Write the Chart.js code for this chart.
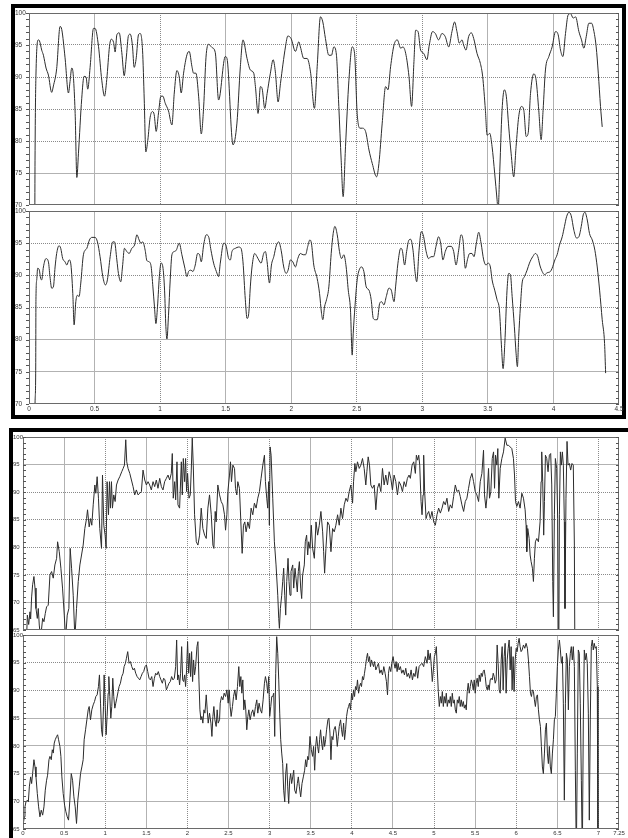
<!DOCTYPE html>
<html>
<head>
<meta charset="utf-8">
<script src="https://cdn.jsdelivr.net/npm/chart.js@4.4.0/dist/chart.umd.min.js"></script>
<style>
  html, body { margin: 0; padding: 0; background: #fff; }
  body { width: 628px; height: 838px; position: relative; overflow: hidden; }
  .frame { position: absolute; border: 4px solid #000; box-sizing: border-box; }
  canvas { position: absolute; }
</style>
</head>
<body>
<div class="frame" style="left:11px;top:4px;width:615px;height:415px"></div>
<div class="frame" style="left:9px;top:428px;width:700px;height:500px"></div>
<canvas id="topA" width="610" height="206" style="left:15px;top:5px"></canvas>
<canvas id="topB" width="610" height="213" style="left:15px;top:203px"></canvas>
<canvas id="lowA" width="615" height="206" style="left:13px;top:430px"></canvas>
<canvas id="lowB" width="615" height="210" style="left:13px;top:628px"></canvas>
<script>
"use strict"

// tick labels
const topXTicks = [0, 0.5, 1, 1.5, 2, 2.5, 3, 3.5, 4, 4.5];
const lowXTicks = [0, 0.5, 1, 1.5, 2, 2.5, 3, 3.5, 4, 4.5, 5, 5.5, 6, 6.5, 7, 7.25];
const topYRange = [70, 100];
const lowYRange = [65, 100];

// upper panel, first trace
const topAx = [
  0.044, 0.046, 0.053, 0.071, 0.079, 0.097, 0.110, 0.130, 0.148, 0.173,
  0.186, 0.211, 0.237, 0.250, 0.275, 0.301, 0.313, 0.326, 0.334, 0.352,
  0.365, 0.377, 0.402, 0.420, 0.435, 0.448, 0.466, 0.492, 0.504, 0.530,
  0.555, 0.576, 0.593, 0.614, 0.627, 0.645, 0.657, 0.670, 0.688, 0.708,
  0.726, 0.741, 0.759, 0.772, 0.789, 0.802, 0.818, 0.835, 0.848, 0.866,
  0.879, 0.891, 0.906, 0.924, 0.942, 0.955, 0.970, 0.988, 1.006, 1.021,
  1.039, 1.064, 1.090, 1.108, 1.128, 1.146, 1.161, 1.179, 1.205, 1.222,
  1.243, 1.255, 1.273, 1.294, 1.314, 1.332, 1.350, 1.370, 1.396, 1.421,
  1.446, 1.497, 1.510, 1.556, 1.586, 1.612, 1.632, 1.663, 1.688, 1.714,
  1.727, 1.747, 1.765, 1.778, 1.798, 1.816, 1.841, 1.862, 1.879, 1.900,
  1.918, 1.956, 1.974, 1.999, 2.032, 2.058, 2.070, 2.096, 2.121, 2.147,
  2.177, 2.198, 2.223, 2.241, 2.261, 2.287, 2.307, 2.325, 2.345, 2.363,
  2.381, 2.396, 2.414, 2.440, 2.465, 2.483, 2.503, 2.524, 2.542, 2.567,
  2.593, 2.618, 2.651, 2.669, 2.694, 2.720, 2.738, 2.758, 2.784, 2.809,
  2.835, 2.852, 2.873, 2.898, 2.918, 2.936, 2.949, 2.967, 2.987, 3.010,
  3.035, 3.053, 3.078, 3.099, 3.124, 3.150, 3.175, 3.201, 3.226, 3.246,
  3.264, 3.282, 3.303, 3.315, 3.333, 3.353, 3.374, 3.392, 3.417, 3.443,
  3.460, 3.481, 3.494, 3.514, 3.532, 3.552, 3.570, 3.578, 3.588, 3.608,
  3.626, 3.641, 3.659, 3.677, 3.697, 3.715, 3.735, 3.756, 3.774, 3.792,
  3.807, 3.825, 3.850, 3.868, 3.888, 3.906, 3.921, 3.939, 3.965, 3.990,
  4.016, 4.036, 4.054, 4.072, 4.092, 4.112, 4.130, 4.151, 4.169, 4.194,
  4.214, 4.232, 4.250, 4.270, 4.291, 4.309, 4.326, 4.342, 4.359, 4.372
];
const topAy = [
  66, 77.0, 90.3, 95.8, 95.7, 94.2, 93.4, 91.4, 90.3, 87.6,
  88.6, 91.3, 97.9, 97.4, 93.0, 87.5, 89.3, 91.4, 91.0, 84.3,
  74.3, 78.0, 86.6, 90.1, 90.0, 88.1, 91.5, 97.6, 97.6, 94.8,
  89.5, 87.0, 89.6, 94.8, 95.9, 95.4, 93.9, 96.6, 96.9, 93.8,
  90.2, 92.8, 96.5, 96.7, 94.9, 91.5, 93.0, 96.6, 96.8, 94.2,
  86.4, 78.3, 80.1, 83.7, 84.6, 84.1, 81.5, 84.4, 87.0, 87.0,
  85.9, 84.7, 82.5, 87.5, 91.0, 90.0, 87.5, 90.6, 93.5, 94.0,
  91.6, 90.6, 90.6, 86.9, 81.1, 85.3, 93.1, 95.1, 94.6, 93.8,
  86.4, 93.2, 92.9, 79.4, 82.8, 91.6, 95.8, 92.9, 91.1, 90.6,
  88.5, 84.3, 88.5, 88.2, 85.1, 87.4, 90.6, 92.7, 90.8, 86.1,
  89.0, 94.7, 96.4, 96.0, 94.0, 95.5, 94.7, 92.9, 92.9, 90.8,
  85.1, 91.6, 99.4, 98.6, 96.0, 93.4, 93.4, 94.7, 93.4, 85.4,
  77.0, 71.3, 79.1, 89.5, 94.7, 93.7, 84.3, 82.0, 82.0, 81.5,
  78.6, 76.5, 74.4, 76.5, 82.8, 88.5, 88.0, 91.6, 95.0, 95.8,
  94.5, 94.7, 93.7, 90.1, 85.4, 92.4, 97.3, 97.1, 94.2, 93.7,
  92.7, 95.0, 97.1, 96.8, 95.8, 96.8, 96.3, 94.7, 97.1, 98.6,
  97.1, 95.3, 95.8, 95.0, 94.2, 96.3, 96.9, 96.0, 93.7, 92.1,
  90.1, 84.8, 80.9, 81.2, 79.1, 74.9, 70.8, 69.0, 73.9, 84.8,
  88.0, 86.9, 82.2, 78.1, 74.4, 79.1, 83.8, 85.4, 84.8, 80.7,
  81.2, 87.4, 90.5, 89.5, 84.8, 80.2, 84.8, 91.1, 93.2, 94.7,
  97.1, 96.6, 94.2, 93.2, 96.8, 99.7, 99.9, 99.2, 99.4, 97.1,
  95.8, 94.5, 96.3, 98.4, 98.4, 97.1, 94.7, 90.6, 85.4, 82.2
];

// upper panel, second trace
const topBx = [
  0.044, 0.046, 0.051, 0.053, 0.059, 0.066, 0.079, 0.089, 0.097, 0.110,
  0.130, 0.148, 0.160, 0.173, 0.186, 0.199, 0.211, 0.229, 0.242, 0.257,
  0.275, 0.288, 0.306, 0.318, 0.334, 0.344, 0.357, 0.369, 0.382, 0.395,
  0.415, 0.441, 0.461, 0.479, 0.504, 0.522, 0.542, 0.563, 0.583, 0.598,
  0.619, 0.639, 0.652, 0.670, 0.682, 0.700, 0.713, 0.728, 0.746, 0.764,
  0.784, 0.805, 0.823, 0.840, 0.853, 0.868, 0.886, 0.899, 0.917, 0.932,
  0.945, 0.957, 0.968, 0.980, 0.996, 1.008, 1.021, 1.034, 1.044, 1.052,
  1.064, 1.077, 1.090, 1.108, 1.123, 1.146, 1.166, 1.187, 1.205, 1.217,
  1.235, 1.250, 1.268, 1.286, 1.301, 1.314, 1.332, 1.352, 1.370, 1.388,
  1.408, 1.429, 1.446, 1.459, 1.485, 1.502, 1.523, 1.536, 1.548, 1.574,
  1.599, 1.617, 1.632, 1.650, 1.663, 1.676, 1.688, 1.701, 1.721, 1.739,
  1.752, 1.770, 1.790, 1.803, 1.816, 1.834, 1.849, 1.867, 1.887, 1.905,
  1.923, 1.943, 1.961, 1.976, 1.994, 2.012, 2.032, 2.050, 2.070, 2.091,
  2.109, 2.126, 2.142, 2.154, 2.172, 2.198, 2.216, 2.231, 2.241, 2.254,
  2.269, 2.287, 2.305, 2.320, 2.333, 2.351, 2.368, 2.384, 2.401, 2.419,
  2.435, 2.452, 2.465, 2.473, 2.486, 2.503, 2.524, 2.537, 2.554, 2.572,
  2.593, 2.610, 2.626, 2.643, 2.656, 2.674, 2.689, 2.707, 2.725, 2.745,
  2.763, 2.784, 2.796, 2.814, 2.835, 2.847, 2.865, 2.880, 2.898, 2.911,
  2.929, 2.944, 2.957, 2.975, 2.992, 3.010, 3.027, 3.048, 3.066, 3.086,
  3.104, 3.124, 3.140, 3.157, 3.175, 3.196, 3.221, 3.239, 3.257, 3.277,
  3.295, 3.310, 3.328, 3.346, 3.361, 3.379, 3.394, 3.412, 3.430, 3.448,
  3.468, 3.486, 3.501, 3.519, 3.532, 3.552, 3.570, 3.588, 3.603, 3.616,
  3.629, 3.646, 3.659, 3.672, 3.685, 3.702, 3.715, 3.725, 3.735, 3.748,
  3.761, 3.779, 3.799, 3.817, 3.842, 3.863, 3.881, 3.896, 3.914, 3.932,
  3.952, 3.977, 3.990, 4.011, 4.028, 4.046, 4.067, 4.084, 4.100, 4.118,
  4.135, 4.156, 4.176, 4.194, 4.212, 4.227, 4.240, 4.258, 4.275, 4.296,
  4.316, 4.334, 4.352, 4.372, 4.390, 4.398
];
const topBy = [
  66, 70.0, 74.8, 86.2, 89.3, 91.1, 90.8, 89.5, 89.3, 91.3,
  92.6, 92.1, 89.8, 88.0, 88.2, 91.3, 93.4, 94.6, 94.2, 92.6,
  92.1, 91.6, 92.4, 91.9, 87.2, 82.3, 85.9, 86.9, 86.7, 88.8,
  93.2, 94.2, 95.5, 95.9, 95.9, 95.2, 92.9, 89.8, 88.5, 89.3,
  92.9, 95.2, 95.2, 92.4, 90.3, 89.0, 91.3, 94.2, 93.7, 93.4,
  94.2, 94.7, 96.3, 95.5, 95.0, 95.2, 93.9, 92.3, 92.1, 91.3,
  88.2, 85.1, 82.5, 85.1, 90.3, 91.9, 91.3, 87.7, 82.0, 80.1,
  83.8, 89.3, 93.2, 93.7, 93.9, 95.0, 93.2, 91.3, 89.8, 90.6,
  90.8, 90.6, 91.6, 93.4, 93.2, 92.1, 94.7, 96.3, 96.0, 93.9,
  91.9, 90.6, 89.8, 91.9, 95.0, 94.7, 92.6, 92.4, 93.7, 94.2,
  94.4, 94.2, 92.1, 86.2, 83.3, 84.1, 88.2, 91.3, 93.4, 92.9,
  92.4, 91.9, 93.4, 93.7, 92.1, 88.8, 91.6, 92.9, 94.7, 95.2,
  93.9, 91.3, 90.3, 90.8, 92.4, 92.1, 91.3, 92.6, 93.4, 93.2,
  93.2, 94.5, 95.5, 95.0, 91.6, 89.5, 87.2, 84.1, 83.1, 85.1,
  86.2, 88.2, 93.4, 96.5, 97.6, 96.3, 93.7, 92.6, 93.2, 91.3,
  87.7, 84.6, 77.6, 81.0, 85.1, 89.3, 91.1, 91.3, 90.6, 88.2,
  87.7, 86.2, 83.3, 83.1, 83.1, 85.6, 85.9, 85.4, 86.7, 88.0,
  87.7, 85.9, 88.2, 91.9, 94.2, 93.9, 91.6, 93.7, 95.5, 95.6,
  93.9, 90.6, 89.0, 93.9, 96.8, 96.0, 93.9, 92.6, 92.9, 92.9,
  94.5, 96.0, 95.0, 92.4, 93.7, 94.5, 94.5, 93.7, 91.6, 93.9,
  96.3, 95.5, 91.1, 92.6, 93.4, 93.4, 92.9, 95.0, 96.7, 95.0,
  92.4, 91.6, 91.9, 91.3, 89.3, 87.7, 86.2, 84.6, 79.2, 75.5,
  79.4, 87.7, 90.3, 90.1, 86.7, 82.0, 77.9, 75.8, 80.5, 85.1,
  88.8, 89.8, 90.8, 91.9, 92.9, 93.4, 92.9, 91.6, 90.6, 90.1,
  90.4, 90.6, 91.1, 92.4, 93.2, 94.7, 96.0, 97.6, 99.1, 99.8,
  99.3, 97.0, 95.8, 96.0, 97.6, 99.4, 99.8, 98.6, 96.5, 95.5,
  93.9, 91.3, 87.7, 83.1, 79.4, 74.8
];

// lower panel, first trace
const lowAx = [
  0.040, 0.053, 0.069, 0.085, 0.093, 0.105, 0.117, 0.133, 0.146, 0.158,
  0.174, 0.186, 0.198, 0.214, 0.239, 0.255, 0.271, 0.287, 0.307, 0.328,
  0.348, 0.368, 0.388, 0.409, 0.421, 0.441, 0.461, 0.481, 0.502, 0.518,
  0.538, 0.558, 0.574, 0.591, 0.611, 0.631, 0.651, 0.672, 0.692, 0.712,
  0.732, 0.752, 0.773, 0.785, 0.805, 0.821, 0.837, 0.854, 0.874, 0.886,
  0.902, 0.918, 0.934, 0.955, 0.967, 0.983, 0.999, 1.011, 1.023, 1.040,
  1.052, 1.064, 1.076, 1.088, 1.104, 1.121, 1.137, 1.157, 1.177, 1.201,
  1.218, 1.234, 1.250, 1.262, 1.278, 1.299, 1.319, 1.339, 1.359, 1.379,
  1.400, 1.420, 1.440, 1.460, 1.481, 1.501, 1.521, 1.541, 1.561, 1.582,
  1.602, 1.622, 1.642, 1.663, 1.683, 1.703, 1.723, 1.744, 1.764, 1.784,
  1.804, 1.816, 1.828, 1.845, 1.857, 1.873, 1.885, 1.905, 1.926, 1.938,
  1.950, 1.966, 1.978, 1.990, 2.002, 2.019, 2.035, 2.047, 2.059, 2.071,
  2.087, 2.108, 2.128, 2.148, 2.168, 2.188, 2.209, 2.229, 2.249, 2.269,
  2.290, 2.310, 2.322, 2.338, 2.350, 2.370, 2.391, 2.411, 2.431, 2.451,
  2.464, 2.480, 2.492, 2.512, 2.524, 2.536, 2.553, 2.573, 2.585, 2.601,
  2.613, 2.633, 2.650, 2.666, 2.682, 2.698, 2.714, 2.735, 2.755, 2.775,
  2.795, 2.815, 2.836, 2.856, 2.876, 2.896, 2.917, 2.937, 2.949, 2.965,
  2.977, 2.989, 2.997, 3.006, 3.018, 3.038, 3.058, 3.078, 3.099, 3.111,
  3.119, 3.131, 3.147, 3.159, 3.171, 3.184, 3.196, 3.208, 3.224, 3.236,
  3.248, 3.260, 3.281, 3.293, 3.309, 3.321, 3.337, 3.349, 3.362, 3.378,
  3.390, 3.402, 3.422, 3.434, 3.450, 3.463, 3.475, 3.491, 3.507, 3.523,
  3.544, 3.564, 3.584, 3.604, 3.624, 3.645, 3.657, 3.669, 3.685, 3.705,
  3.726, 3.746, 3.766, 3.786, 3.806, 3.827, 3.847, 3.867, 3.887, 3.908,
  3.928, 3.948, 3.968, 3.988, 4.009, 4.021, 4.037, 4.049, 4.069, 4.090,
  4.110, 4.130, 4.150, 4.170, 4.183, 4.199, 4.215, 4.231, 4.251, 4.272,
  4.292, 4.312, 4.332, 4.353, 4.373, 4.393, 4.413, 4.434, 4.454, 4.474,
  4.494, 4.514, 4.535, 4.555, 4.575, 4.595, 4.616, 4.636, 4.656, 4.676,
  4.696, 4.712, 4.733, 4.753, 4.773, 4.785, 4.801, 4.814, 4.826, 4.842,
  4.854, 4.866, 4.874, 4.886, 4.903, 4.915, 4.935, 4.955, 4.975, 4.996,
  5.016, 5.036, 5.056, 5.077, 5.097, 5.117, 5.137, 5.157, 5.178, 5.198,
  5.218, 5.238, 5.259, 5.279, 5.299, 5.319, 5.339, 5.360, 5.380, 5.400,
  5.420, 5.441, 5.461, 5.481, 5.501, 5.521, 5.542, 5.562, 5.582, 5.602,
  5.614, 5.631, 5.643, 5.663, 5.675, 5.691, 5.708, 5.724, 5.736, 5.748,
  5.764, 5.776, 5.788, 5.805, 5.825, 5.845, 5.865, 5.886, 5.906, 5.926,
  5.946, 5.966, 5.979, 5.991, 6.007, 6.027, 6.047, 6.068, 6.088, 6.108,
  6.120, 6.128, 6.140, 6.157, 6.169, 6.181, 6.197, 6.209, 6.221, 6.233,
  6.250, 6.270, 6.290, 6.302, 6.310, 6.322, 6.334, 6.343, 6.355, 6.371,
  6.387, 6.403, 6.419, 6.432, 6.444, 6.452, 6.464, 6.476, 6.492, 6.504,
  6.516, 6.525, 6.537, 6.549, 6.561, 6.573, 6.585, 6.593, 6.605, 6.618,
  6.630, 6.646, 6.662, 6.678, 6.694, 6.707, 6.715
];
const lowAy = [
  62, 67.7, 66.0, 68.3, 67.0, 71.0, 73.2, 74.7, 72.6, 68.9,
  67.1, 68.9, 65.9, 63.5, 67.1, 66.5, 68.0, 69.2, 69.5, 75.0,
  75.6, 74.4, 76.8, 78.0, 81.0, 79.2, 76.2, 72.6, 67.7, 63.5,
  67.7, 68.9, 79.8, 76.2, 71.3, 63.5, 68.9, 73.8, 76.8, 78.6,
  80.4, 83.4, 85.2, 86.8, 83.7, 85.2, 84.0, 87.7, 91.3, 89.8,
  92.8, 88.9, 83.4, 79.8, 93.1, 84.0, 82.2, 79.8, 91.9, 85.9,
  91.9, 87.1, 91.9, 87.1, 89.5, 88.3, 91.3, 92.2, 92.8, 93.7,
  94.3, 94.9, 99.5, 95.5, 94.3, 93.4, 92.2, 91.0, 89.5, 90.4,
  89.5, 89.8, 90.1, 94.0, 92.2, 91.3, 91.9, 91.3, 90.4, 91.9,
  91.0, 92.2, 90.7, 92.5, 91.0, 90.4, 91.9, 92.5, 93.1, 92.2,
  93.4, 97.0, 88.9, 91.9, 88.6, 95.5, 87.7, 87.1, 95.5, 89.5,
  96.1, 91.9, 96.1, 90.1, 93.4, 88.9, 89.5, 94.0, 99.8, 94.9,
  85.9, 81.0, 80.4, 82.2, 87.1, 83.4, 82.2, 81.6, 87.1, 89.5,
  85.9, 80.4, 79.8, 86.5, 84.6, 91.3, 89.5, 88.3, 87.7, 85.9,
  83.1, 85.9, 90.1, 93.1, 95.5, 91.9, 94.9, 94.3, 90.7, 89.5,
  91.9, 90.7, 84.6, 78.9, 84.0, 84.6, 82.8, 84.6, 83.4, 87.1,
  85.9, 88.0, 87.1, 88.9, 90.1, 92.5, 94.9, 96.7, 91.9, 88.9,
  87.1, 91.9, 84.0, 98.2, 96.7, 88.9, 81.0, 76.8, 71.3, 67.1,
  65.3, 68.9, 71.3, 73.8, 76.2, 71.3, 67.7, 73.8, 78.0, 73.8,
  71.3, 75.6, 76.8, 72.6, 76.2, 74.4, 71.9, 75.6, 77.4, 72.6,
  70.7, 75.0, 76.8, 81.0, 82.2, 78.6, 81.0, 79.8, 84.0, 79.8,
  78.0, 84.6, 82.2, 84.0, 86.5, 82.8, 79.2, 75.3, 79.8, 84.6,
  84.0, 79.2, 83.4, 82.8, 84.0, 85.9, 84.0, 87.1, 85.2, 87.7,
  88.9, 88.3, 90.1, 91.3, 88.0, 91.9, 95.2, 93.7, 95.5, 94.3,
  94.9, 96.1, 94.3, 91.3, 93.7, 96.4, 94.9, 91.3, 90.7, 91.3,
  86.8, 90.7, 91.6, 90.1, 94.3, 91.3, 93.1, 91.3, 93.7, 92.5,
  90.4, 93.1, 91.9, 89.5, 91.9, 91.3, 90.1, 91.9, 91.0, 92.5,
  93.1, 92.5, 94.9, 95.5, 93.4, 96.7, 95.8, 96.7, 94.9, 88.3,
  85.9, 89.5, 96.7, 90.1, 85.2, 85.9, 86.5, 85.2, 86.5, 84.6,
  84.0, 85.9, 87.1, 86.2, 87.1, 88.3, 87.7, 88.9, 86.5, 87.7,
  87.1, 89.2, 91.3, 90.1, 90.4, 89.2, 87.7, 86.5, 88.3, 88.9,
  90.7, 92.5, 93.4, 91.9, 90.1, 89.5, 88.3, 91.9, 93.4, 97.6,
  89.5, 87.1, 88.9, 94.3, 88.9, 90.1, 96.1, 97.3, 90.7, 96.7,
  94.9, 97.9, 88.9, 94.3, 96.1, 97.3, 99.8, 98.5, 98.5, 98.2,
  97.9, 96.1, 93.1, 88.3, 87.4, 88.3, 87.1, 89.8, 88.9, 86.8,
  84.0, 79.2, 83.4, 81.6, 78.6, 77.4, 76.2, 73.8, 78.0, 81.0,
  81.6, 81.0, 84.6, 91.9, 97.3, 91.9, 82.2, 88.3, 96.7, 96.1,
  93.7, 96.7, 97.0, 91.3, 73.8, 67.4, 85.9, 96.1, 94.3, 85.2,
  55, 85.9, 97.3, 94.9, 97.3, 94.9, 84.6, 68.9, 88.9, 99.2,
  94.9, 95.2, 94.0, 95.2, 94.9, 80.4, 55
];

// lower panel, second trace
const lowBx = [
  0.004, 0.016, 0.024, 0.036, 0.053, 0.065, 0.077, 0.093, 0.105, 0.117,
  0.133, 0.146, 0.158, 0.174, 0.190, 0.206, 0.222, 0.239, 0.255, 0.271,
  0.287, 0.299, 0.316, 0.328, 0.344, 0.356, 0.368, 0.380, 0.392, 0.409,
  0.421, 0.433, 0.449, 0.461, 0.473, 0.489, 0.506, 0.522, 0.538, 0.554,
  0.570, 0.587, 0.603, 0.619, 0.635, 0.651, 0.667, 0.684, 0.700, 0.716,
  0.732, 0.744, 0.761, 0.777, 0.793, 0.805, 0.821, 0.837, 0.854, 0.870,
  0.886, 0.902, 0.918, 0.930, 0.943, 0.955, 0.967, 0.979, 0.987, 0.999,
  1.011, 1.023, 1.036, 1.044, 1.056, 1.068, 1.080, 1.092, 1.104, 1.117,
  1.129, 1.141, 1.157, 1.169, 1.185, 1.201, 1.218, 1.230, 1.246, 1.258,
  1.274, 1.290, 1.307, 1.323, 1.339, 1.355, 1.371, 1.388, 1.404, 1.420,
  1.436, 1.452, 1.468, 1.485, 1.501, 1.517, 1.533, 1.549, 1.566, 1.582,
  1.598, 1.614, 1.630, 1.646, 1.663, 1.679, 1.695, 1.711, 1.727, 1.744,
  1.760, 1.776, 1.792, 1.808, 1.824, 1.841, 1.857, 1.869, 1.881, 1.893,
  1.905, 1.917, 1.930, 1.942, 1.954, 1.966, 1.978, 1.990, 2.002, 2.015,
  2.027, 2.039, 2.051, 2.063, 2.075, 2.087, 2.100, 2.116, 2.128, 2.140,
  2.152, 2.164, 2.176, 2.188, 2.201, 2.213, 2.229, 2.241, 2.253, 2.269,
  2.286, 2.298, 2.310, 2.322, 2.334, 2.350, 2.362, 2.374, 2.391, 2.399,
  2.415, 2.431, 2.447, 2.464, 2.480, 2.496, 2.508, 2.520, 2.532, 2.548,
  2.561, 2.577, 2.593, 2.609, 2.625, 2.637, 2.650, 2.662, 2.674, 2.686,
  2.698, 2.710, 2.722, 2.735, 2.747, 2.763, 2.779, 2.795, 2.811, 2.828,
  2.844, 2.856, 2.872, 2.888, 2.904, 2.921, 2.937, 2.949, 2.965, 2.977,
  2.989, 3.001, 3.014, 3.026, 3.038, 3.050, 3.062, 3.074, 3.086, 3.099,
  3.111, 3.123, 3.135, 3.147, 3.159, 3.171, 3.184, 3.196, 3.208, 3.220,
  3.232, 3.244, 3.256, 3.268, 3.281, 3.293, 3.305, 3.321, 3.337, 3.349,
  3.362, 3.378, 3.394, 3.410, 3.426, 3.438, 3.450, 3.463, 3.475, 3.491,
  3.507, 3.523, 3.535, 3.548, 3.560, 3.572, 3.584, 3.596, 3.608, 3.620,
  3.633, 3.645, 3.657, 3.669, 3.681, 3.693, 3.709, 3.721, 3.734, 3.746,
  3.758, 3.770, 3.782, 3.798, 3.810, 3.823, 3.835, 3.847, 3.863, 3.875,
  3.887, 3.900, 3.912, 3.924, 3.936, 3.948, 3.960, 3.972, 3.984, 3.997,
  4.009, 4.021, 4.033, 4.045, 4.057, 4.069, 4.082, 4.094, 4.106, 4.118,
  4.130, 4.142, 4.154, 4.166, 4.179, 4.191, 4.203, 4.215, 4.227, 4.239,
  4.251, 4.264, 4.276, 4.292, 4.308, 4.324, 4.340, 4.357, 4.373, 4.389,
  4.405, 4.421, 4.434, 4.446, 4.458, 4.474, 4.486, 4.502, 4.514, 4.526,
  4.539, 4.551, 4.563, 4.575, 4.591, 4.607, 4.624, 4.640, 4.656, 4.672,
  4.688, 4.704, 4.721, 4.737, 4.753, 4.769, 4.785, 4.801, 4.818, 4.834,
  4.854, 4.874, 4.894, 4.915, 4.927, 4.939, 4.955, 4.967, 4.979, 4.992,
  5.004, 5.016, 5.028, 5.040, 5.052, 5.064, 5.077, 5.089, 5.101, 5.113,
  5.125, 5.137, 5.149, 5.161, 5.174, 5.186, 5.198, 5.210, 5.222, 5.234,
  5.246, 5.259, 5.271, 5.283, 5.295, 5.307, 5.319, 5.331, 5.343, 5.356,
  5.368, 5.380, 5.392, 5.404, 5.416, 5.428, 5.441, 5.453, 5.465, 5.477,
  5.489, 5.501, 5.513, 5.525, 5.538, 5.550, 5.562, 5.574, 5.586, 5.598,
  5.610, 5.623, 5.635, 5.647, 5.659, 5.671, 5.683, 5.695, 5.708, 5.720,
  5.732, 5.744, 5.756, 5.768, 5.780, 5.792, 5.805, 5.817, 5.829, 5.841,
  5.853, 5.865, 5.877, 5.890, 5.902, 5.914, 5.926, 5.938, 5.950, 5.962,
  5.974, 5.987, 5.999, 6.011, 6.023, 6.035, 6.047, 6.059, 6.072, 6.088,
  6.104, 6.120, 6.136, 6.148, 6.161, 6.173, 6.185, 6.197, 6.209, 6.221,
  6.233, 6.246, 6.258, 6.270, 6.282, 6.294, 6.306, 6.318, 6.330, 6.343,
  6.355, 6.367, 6.379, 6.391, 6.403, 6.415, 6.427, 6.440, 6.452, 6.464,
  6.476, 6.488, 6.500, 6.512, 6.525, 6.537, 6.549, 6.561, 6.573, 6.585,
  6.598, 6.610, 6.622, 6.634, 6.646, 6.658, 6.670, 6.682, 6.694, 6.707,
  6.719, 6.731, 6.743, 6.755, 6.767, 6.779, 6.792, 6.804, 6.816, 6.828,
  6.840, 6.852, 6.864, 6.877, 6.889, 6.901, 6.913, 6.925, 6.937, 6.949,
  6.961, 6.974, 6.986, 6.994
];
const lowBy = [
  66.0, 67.2, 69.0, 69.9, 70.2, 69.9, 72.6, 74.4, 73.2, 75.0,
  77.5, 76.2, 74.4, 71.4, 69.0, 67.2, 68.4, 67.5, 69.0, 72.0,
  73.8, 74.7, 77.5, 78.1, 77.5, 79.3, 78.7, 80.5, 81.1, 81.7,
  82.0, 81.1, 79.9, 78.1, 74.4, 71.4, 69.3, 68.1, 67.2, 66.6,
  70.2, 75.0, 73.8, 70.8, 69.0, 66.0, 70.2, 72.6, 75.0, 76.2,
  77.5, 81.1, 82.9, 84.7, 86.5, 87.1, 84.7, 86.5, 87.4, 88.0,
  88.9, 89.2, 90.7, 92.8, 87.7, 82.9, 81.7, 87.1, 92.8, 87.7,
  82.0, 85.3, 89.5, 92.5, 88.9, 85.0, 87.1, 92.2, 88.9, 86.8,
  87.7, 88.6, 89.8, 90.7, 91.3, 92.5, 93.1, 94.3, 94.9, 95.8,
  97.0, 94.9, 95.2, 94.3, 93.7, 94.0, 93.1, 92.5, 92.2, 91.9,
  92.5, 93.1, 93.4, 94.3, 94.6, 93.4, 92.2, 91.9, 92.5, 90.7,
  92.2, 93.1, 92.8, 93.4, 92.5, 91.9, 91.3, 92.2, 91.9, 90.1,
  90.7, 91.3, 91.6, 92.5, 91.9, 92.2, 94.3, 99.1, 91.9, 92.8,
  91.0, 93.1, 97.9, 91.9, 91.6, 92.8, 90.7, 93.7, 98.8, 93.1,
  96.7, 92.5, 97.0, 91.6, 95.5, 92.8, 94.3, 97.9, 98.8, 91.9,
  86.5, 84.7, 85.3, 84.1, 86.5, 85.9, 89.2, 86.5, 84.1, 85.9,
  84.1, 81.7, 85.3, 87.1, 84.7, 83.5, 86.5, 84.1, 84.7, 87.7,
  88.9, 88.3, 89.5, 88.9, 90.1, 87.7, 90.1, 87.1, 85.3, 87.1,
  88.9, 90.1, 88.3, 90.7, 94.3, 90.7, 92.5, 89.5, 91.9, 86.5,
  88.3, 86.5, 82.9, 85.3, 86.5, 84.7, 85.9, 86.5, 85.3, 87.1,
  88.3, 85.9, 87.7, 86.5, 85.9, 88.3, 91.3, 92.5, 91.3, 89.5,
  92.5, 85.3, 87.1, 88.9, 88.9, 89.5, 81.7, 93.1, 99.7, 96.7,
  91.9, 85.9, 81.1, 78.7, 76.8, 72.0, 69.9, 75.0, 76.8, 72.6,
  69.6, 73.8, 75.0, 73.2, 74.4, 75.6, 72.0, 71.4, 73.2, 74.4,
  72.6, 70.8, 73.2, 74.4, 75.6, 77.5, 76.2, 78.1, 77.5, 81.7,
  79.3, 78.1, 79.9, 75.6, 79.9, 81.7, 79.9, 78.7, 81.1, 82.9,
  80.5, 79.3, 81.7, 79.9, 81.1, 82.9, 84.7, 85.0, 82.3, 77.5,
  81.7, 81.1, 82.9, 83.5, 82.3, 79.9, 81.7, 83.5, 84.7, 82.9,
  81.7, 84.1, 81.1, 82.9, 85.3, 86.5, 87.1, 87.7, 86.5, 89.5,
  88.3, 90.1, 88.9, 90.7, 90.1, 91.9, 89.5, 90.7, 91.3, 90.7,
  92.5, 91.9, 93.1, 94.3, 95.8, 96.7, 95.2, 96.1, 94.3, 95.5,
  94.9, 94.3, 95.2, 93.7, 94.3, 94.9, 93.1, 93.7, 92.8, 94.3,
  93.1, 91.6, 89.2, 93.1, 94.3, 93.4, 94.9, 96.1, 94.9, 94.0,
  95.2, 93.4, 94.9, 93.7, 94.3, 93.1, 93.7, 92.8, 94.0, 92.5,
  93.1, 92.2, 93.7, 91.9, 93.1, 92.5, 94.3, 92.2, 94.3, 94.6,
  94.9, 94.3, 96.1, 94.9, 97.3, 95.5, 96.7, 94.3, 91.6, 93.7,
  96.1, 96.7, 97.9, 93.7, 89.8, 87.1, 88.9, 87.7, 89.8, 87.1,
  88.9, 87.7, 89.5, 87.1, 88.3, 87.7, 88.9, 87.1, 89.5, 87.7,
  88.3, 86.5, 85.9, 88.3, 87.7, 88.9, 87.1, 88.3, 87.1, 88.0,
  86.8, 87.4, 86.5, 89.8, 91.3, 89.5, 90.7, 91.9, 91.3, 90.1,
  91.9, 89.5, 91.3, 92.2, 90.7, 92.8, 91.6, 93.1, 92.5, 93.4,
  93.7, 92.5, 90.7, 90.1, 91.0, 90.1, 91.9, 92.2, 91.9, 93.1,
  92.5, 91.3, 91.9, 98.2, 94.9, 90.1, 89.5, 95.5, 97.9, 90.1,
  96.1, 98.5, 89.5, 95.5, 97.6, 99.1, 93.7, 97.9, 90.1, 96.1,
  89.8, 95.5, 97.6, 97.0, 98.5, 99.4, 97.9, 97.0, 97.3, 98.2,
  97.6, 98.5, 97.6, 95.5, 92.5, 89.5, 88.9, 90.1, 89.8, 88.3,
  87.1, 88.9, 89.2, 86.5, 84.7, 83.5, 79.9, 76.2, 75.0, 78.7,
  82.9, 84.1, 78.7, 76.8, 79.9, 76.2, 75.0, 78.7, 81.1, 84.7,
  85.3, 89.5, 94.3, 97.3, 99.1, 97.3, 94.9, 96.1, 87.7, 70.2,
  87.7, 96.7, 95.5, 86.5, 94.3, 96.7, 97.9, 95.5, 97.9, 94.3,
  75.6, 60, 78.7, 97.3, 96.7, 87.7, 73.8, 60, 84.7, 97.3,
  95.5, 96.7, 94.9, 85.9, 66.6, 84.7, 97.9, 99.1, 97.3, 98.5,
  97.6, 97.9, 90.7, 60
];

const solidGray = '#b2b2b2';
const dotGray = '#8a8a8a';

// plot box and the small y-axis marks
const plotFrame = {
  id: 'plotFrame',
  afterDraw(chart, args, opts) {
    const { ctx, chartArea: a } = chart;
    const y = chart.scales.y;
    ctx.save();
    ctx.strokeStyle = '#6a6a6a';
    ctx.lineWidth = 1;
    ctx.strokeRect(a.left + 0.5, a.top + 0.5, a.right - a.left - 1, a.bottom - a.top - 1);
    ctx.strokeStyle = '#555';
    ctx.beginPath();
    for (let v = y.min; v <= y.max; v++) {
      const py = Math.round(y.getPixelForValue(v)) + 0.5;
      ctx.moveTo(a.left - opts.outside, py);
      ctx.lineTo(a.left + opts.inside, py);
      ctx.moveTo(a.right - 3, py);
      ctx.lineTo(a.right, py);
    }
    ctx.stroke();
    ctx.restore();
  }
};

function drawTrace(id, xs, ys, cfg) {
  const n = Math.min(xs.length, ys.length);
  const pts = [];
  for (let i = 0; i < n; i++) pts.push({ x: xs[i], y: ys[i] });

  const xMax = cfg.xTicks[cfg.xTicks.length - 1];
  const font = { family: 'Liberation Sans', size: cfg.fontSize };
  const inside = (v, lo, hi) => v > lo + 1e-6 && v < hi - 1e-6;
  const xSolid = c => (c.tick && inside(c.tick.value, 0, xMax) && !cfg.xDots.includes(c.tick.value)) ? solidGray : 'rgba(0,0,0,0)';
  const xDot = c => (c.tick && cfg.xDots.includes(c.tick.value)) ? dotGray : 'rgba(0,0,0,0)';
  const ySolid = c => (c.tick && inside(c.tick.value, cfg.yRange[0], cfg.yRange[1]) && !cfg.yDots.includes(c.tick.value)) ? solidGray : 'rgba(0,0,0,0)';
  const yDot = c => (c.tick && cfg.yDots.includes(c.tick.value)) ? dotGray : 'rgba(0,0,0,0)';
  const setXTicks = s => { s.ticks = cfg.xTicks.map(v => ({ value: v })); };

  return new Chart(document.getElementById(id), {
    type: 'line',
    data: {
      datasets: [{
        data: pts,
        borderColor: '#2c2c2c',
        borderWidth: 1,
        pointRadius: 0,
        fill: false,
        tension: 0,
        cubicInterpolationMode: cfg.smooth ? 'monotone' : 'default'
      }]
    },
    options: {
      responsive: false,
      animation: false,
      events: [],
      layout: { padding: { top: cfg.padTop, right: cfg.padRight, bottom: 0, left: 0 } },
      plugins: {
        legend: { display: false },
        tooltip: { enabled: false },
        plotFrame: { outside: cfg.tickOut, inside: cfg.tickIn }
      },
      scales: {
        x: {
          type: 'linear', min: 0, max: xMax,
          afterBuildTicks: setXTicks,
          afterFit: s => { s.height = cfg.xHeight; },
          border: { display: false },
          grid: { drawTicks: false, color: xSolid },
          ticks: {
            display: cfg.showX, padding: 1, font: font, color: '#333',
            maxRotation: 0, autoSkip: false, callback: v => String(v)
          }
        },
        xDotted: {
          type: 'linear', axis: 'x', position: 'bottom', min: 0, max: xMax,
          afterBuildTicks: setXTicks,
          afterFit: s => { s.height = 0; },
          border: { display: false, dash: [1, 1] },
          grid: { drawTicks: false, color: xDot },
          ticks: { display: false }
        },
        y: {
          min: cfg.yRange[0], max: cfg.yRange[1],
          afterFit: s => { s.width = cfg.yWidth; },
          border: { display: false },
          grid: { drawTicks: false, color: ySolid },
          ticks: { stepSize: 5, crossAlign: 'far', padding: 0, font: font, color: '#333' }
        },
        yDotted: {
          type: 'linear', axis: 'y', position: 'left', min: cfg.yRange[0], max: cfg.yRange[1],
          afterFit: s => { s.width = 0; },
          border: { display: false, dash: [1, 1] },
          grid: { drawTicks: false, color: yDot },
          ticks: { stepSize: 5, display: false }
        }
      }
    },
    plugins: [plotFrame]
  });
}

drawTrace('topA', topAx, topAy, {
  smooth: true, xTicks: topXTicks, yRange: topYRange, showX: false, fontSize: 6.5,
  xDots: [1, 2.5, 3], yDots: [80, 85, 90, 95],
  padTop: 8, padRight: 6, xHeight: 6, yWidth: 14, tickOut: 3, tickIn: 0
});
drawTrace('topB', topBx, topBy, {
  smooth: true, xTicks: topXTicks, yRange: topYRange, showX: true, fontSize: 6.5,
  xDots: [1, 2.5, 3], yDots: [85, 90, 95],
  padTop: 8, padRight: 6, xHeight: 12, yWidth: 14, tickOut: 3, tickIn: 0
});
drawTrace('lowA', lowAx, lowAy, {
  smooth: false, xTicks: lowXTicks, yRange: lowYRange, showX: false, fontSize: 6,
  xDots: [1, 2, 3, 4, 5, 6, 7], yDots: [75, 80, 85, 90],
  padTop: 7, padRight: 9, xHeight: 6, yWidth: 10, tickOut: 0, tickIn: 3
});
drawTrace('lowB', lowBx, lowBy, {
  smooth: false, xTicks: lowXTicks, yRange: lowYRange, showX: true, fontSize: 6,
  xDots: [1, 2, 3, 4, 5, 6, 7], yDots: [90, 95],
  padTop: 7, padRight: 9, xHeight: 9, yWidth: 10, tickOut: 0, tickIn: 3
});
</script>
</body>
</html>
